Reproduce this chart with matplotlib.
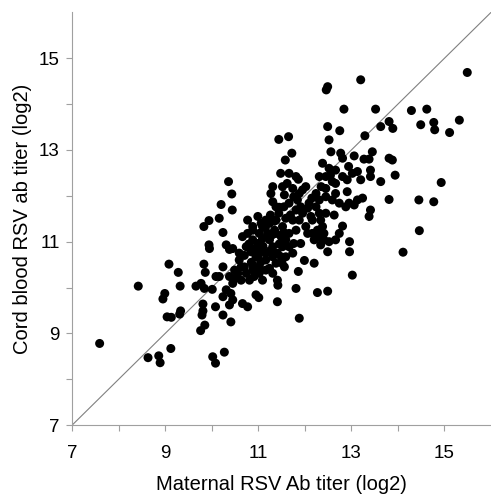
import matplotlib.pyplot as plt

plt.rcParams['font.family'] = ['Liberation Sans', 'DejaVu Sans']

# maternal titer (x) and cord blood titer (y), log2
maternal = [
    7.59, 8.42, 8.63, 8.86, 8.89, 9.12, 9.08, 8.99, 8.95, 9.04,
    9.13, 9.31, 9.33, 9.28, 9.32, 9.66, 9.77, 9.84, 10.01, 9.83,
    9.86, 10.09, 9.81, 9.81, 9.79, 9.85, 9.76, 10.08, 10.02, 10.08,
    10.27, 9.83, 9.94, 9.94, 9.95, 10.16, 10.20, 10.24, 10.31, 10.36,
    10.43, 10.44, 10.45, 10.38, 10.24, 10.16, 10.38, 10.49, 10.45, 10.41,
    10.31, 10.24, 10.38, 10.45, 10.24, 10.41, 10.66, 10.77, 10.95, 11.01,
    10.66, 10.77, 10.88, 10.99, 11.06, 10.74, 10.84, 10.95, 11.06, 11.16,
    10.59, 10.63, 10.74, 10.81, 10.91, 11.02, 11.09, 11.31, 11.41, 11.42,
    11.41, 11.56, 11.51, 11.44, 11.65, 11.58, 11.72, 11.48, 11.66, 11.81,
    11.86, 11.31, 11.27, 11.31, 11.38, 11.56, 11.74, 11.95, 11.84, 11.91,
    11.81, 11.95, 12.24, 12.31, 12.45, 12.38, 12.49, 12.52, 12.56, 10.88,
    11.02, 11.24, 11.38, 11.52, 11.66, 11.81, 12.02, 12.16, 12.27, 12.38,
    11.24, 11.35, 11.91, 11.99, 12.20, 11.86, 11.81, 11.88, 12.27, 12.49,
    12.49, 12.66, 12.74, 12.34, 12.16, 12.31, 12.34, 12.45, 12.63, 12.81,
    12.52, 12.96, 12.96, 13.02, 14.11, 14.46, 14.45, 14.77, 14.93, 15.49,
    14.29, 14.62, 14.49, 14.77, 14.79, 15.11, 15.32, 13.94, 13.81, 13.63,
    13.81, 13.88, 13.81, 13.89, 13.63, 13.52, 13.29, 13.20, 12.49, 12.46,
    12.84, 12.75, 12.77, 12.81, 13.06, 13.27, 13.38, 13.45, 12.52, 12.66,
    12.45, 12.31, 13.02, 13.13, 13.41, 13.41, 13.20, 12.91, 12.81, 12.66,
    12.45, 12.66, 12.91, 12.59, 12.74, 12.95, 13.13, 13.24, 13.06, 12.88,
    13.41, 13.38, 11.88, 11.74, 10.77, 10.88, 10.99, 11.09, 11.20, 11.31,
    11.41, 11.52, 11.16, 10.88, 11.02, 10.88, 11.24, 11.38, 11.49, 11.66,
    11.76, 11.38, 11.49, 11.59, 11.09, 11.16, 11.26, 11.59, 11.69, 11.44,
    11.55, 11.66, 11.76, 11.52, 11.62, 12.09, 12.06, 12.13, 12.24, 12.20,
    12.31, 12.41, 12.41, 12.06, 10.59, 10.56, 10.63, 10.49, 11.31, 11.16,
    11.59, 11.74, 12.94, 12.59, 12.02, 11.88, 10.70, 10.80, 10.92, 11.00,
    11.10, 11.15, 11.25, 10.85, 11.05, 10.70, 11.45, 11.35, 11.30, 11.55,
    11.45, 12.15, 12.35, 12.55,
]
cord = [
    8.78, 10.03, 8.47, 8.51, 8.36, 8.67, 10.51, 9.87, 9.75, 9.36,
    9.35, 9.42, 9.49, 10.33, 10.03, 10.03, 10.09, 9.98, 9.96, 10.51,
    10.33, 10.24, 9.64, 9.49, 9.40, 9.18, 9.06, 9.58, 8.49, 8.35,
    8.59, 11.33, 11.46, 10.93, 10.85, 11.51, 11.81, 11.20, 10.93, 12.31,
    12.04, 11.69, 10.85, 10.83, 10.45, 10.24, 10.24, 10.38, 10.09, 9.87,
    9.95, 9.80, 9.62, 9.73, 9.40, 9.25, 9.65, 9.58, 9.84, 9.78,
    11.11, 11.47, 11.33, 11.55, 11.40, 10.89, 10.78, 10.67, 10.82, 10.60,
    10.60, 10.45, 10.31, 10.16, 10.24, 10.31, 10.16, 10.31, 10.16, 10.05,
    9.69, 10.45, 10.53, 13.23, 13.29, 12.78, 12.93, 12.49, 12.49, 12.42,
    12.36, 12.20, 12.05, 11.87, 11.76, 12.02, 12.16, 12.13, 11.91, 11.76,
    11.69, 11.62, 12.05, 11.91, 11.98, 12.71, 13.51, 13.22, 12.96, 11.25,
    11.18, 11.40, 11.47, 11.33, 11.18, 11.25, 11.33, 11.47, 11.25, 11.33,
    11.04, 11.25, 10.96, 10.59, 10.53, 10.35, 9.98, 9.33, 9.89, 9.92,
    10.78, 11.04, 11.18, 10.93, 11.18, 11.62, 11.47, 11.62, 11.58, 11.34,
    11.00, 11.00, 10.78, 10.27, 10.77, 11.24, 11.91, 11.87, 12.29, 14.69,
    13.86, 13.89, 13.55, 13.60, 13.44, 13.38, 13.65, 12.45, 11.92, 12.31,
    12.82, 12.78, 13.62, 13.47, 13.51, 13.89, 13.31, 14.53, 14.38, 14.31,
    13.89, 13.42, 12.93, 12.82, 12.87, 12.80, 12.80, 12.96, 12.60, 12.56,
    12.42, 12.42, 12.49, 12.53, 12.56, 12.42, 12.35, 12.35, 12.42, 12.27,
    12.16, 12.05, 12.09, 11.91, 11.84, 11.84, 11.91, 11.95, 11.80, 11.76,
    11.69, 11.55, 11.47, 11.47, 11.18, 11.04, 10.96, 11.07, 11.18, 10.89,
    10.75, 10.89, 10.75, 10.49, 10.45, 10.38, 10.42, 10.53, 10.67, 10.89,
    10.96, 11.18, 11.11, 11.04, 11.33, 11.47, 11.58, 11.51, 11.58, 11.62,
    11.76, 11.84, 11.98, 12.20, 12.27, 11.84, 11.73, 11.55, 11.76, 11.04,
    11.11, 11.18, 11.04, 11.18, 10.75, 10.31, 10.16, 10.20, 10.67, 10.38,
    10.67, 10.75, 12.64, 12.31, 12.20, 12.05, 10.70, 10.95, 10.85, 10.70,
    10.90, 11.30, 10.80, 10.55, 10.55, 10.45, 10.95, 11.45, 11.15, 11.20,
    11.75, 11.95, 12.20, 12.45,
]

fig = plt.figure(figsize=(4.91, 4.96), dpi=100)
ax = fig.add_axes([0.147, 0.143, 0.853, 0.832])

ax.plot([7, 16], [7, 16], color='#808080', lw=0.8, zorder=1)
ax.scatter(maternal, cord, s=42, color='black', edgecolors='none', zorder=2)

ax.set_xlim(7, 16)
ax.set_ylim(7, 16)
ax.set_xticks([7, 9, 11, 13, 15])
ax.set_yticks([7, 9, 11, 13, 15])
ax.set_xticks([8, 10, 12, 14], minor=True)
ax.set_yticks([8, 10, 12, 14], minor=True)

for s in ['top', 'right']:
    ax.spines[s].set_visible(False)
for s in ['left', 'bottom']:
    ax.spines[s].set_color('#a0a0a0')
    ax.spines[s].set_linewidth(0.8)

ax.tick_params(which='both', direction='out', length=4, width=0.8,
               color='#a0a0a0', labelsize=13.5)
ax.tick_params(axis='x', pad=10)
ax.tick_params(axis='y', pad=5)

ax.set_xlabel('Maternal RSV Ab titer (log2)', fontsize=14.5, labelpad=10)
ax.set_ylabel('Cord blood RSV ab titer (log2)', fontsize=14.5, labelpad=5)

fig.savefig('out.png', dpi=100)
